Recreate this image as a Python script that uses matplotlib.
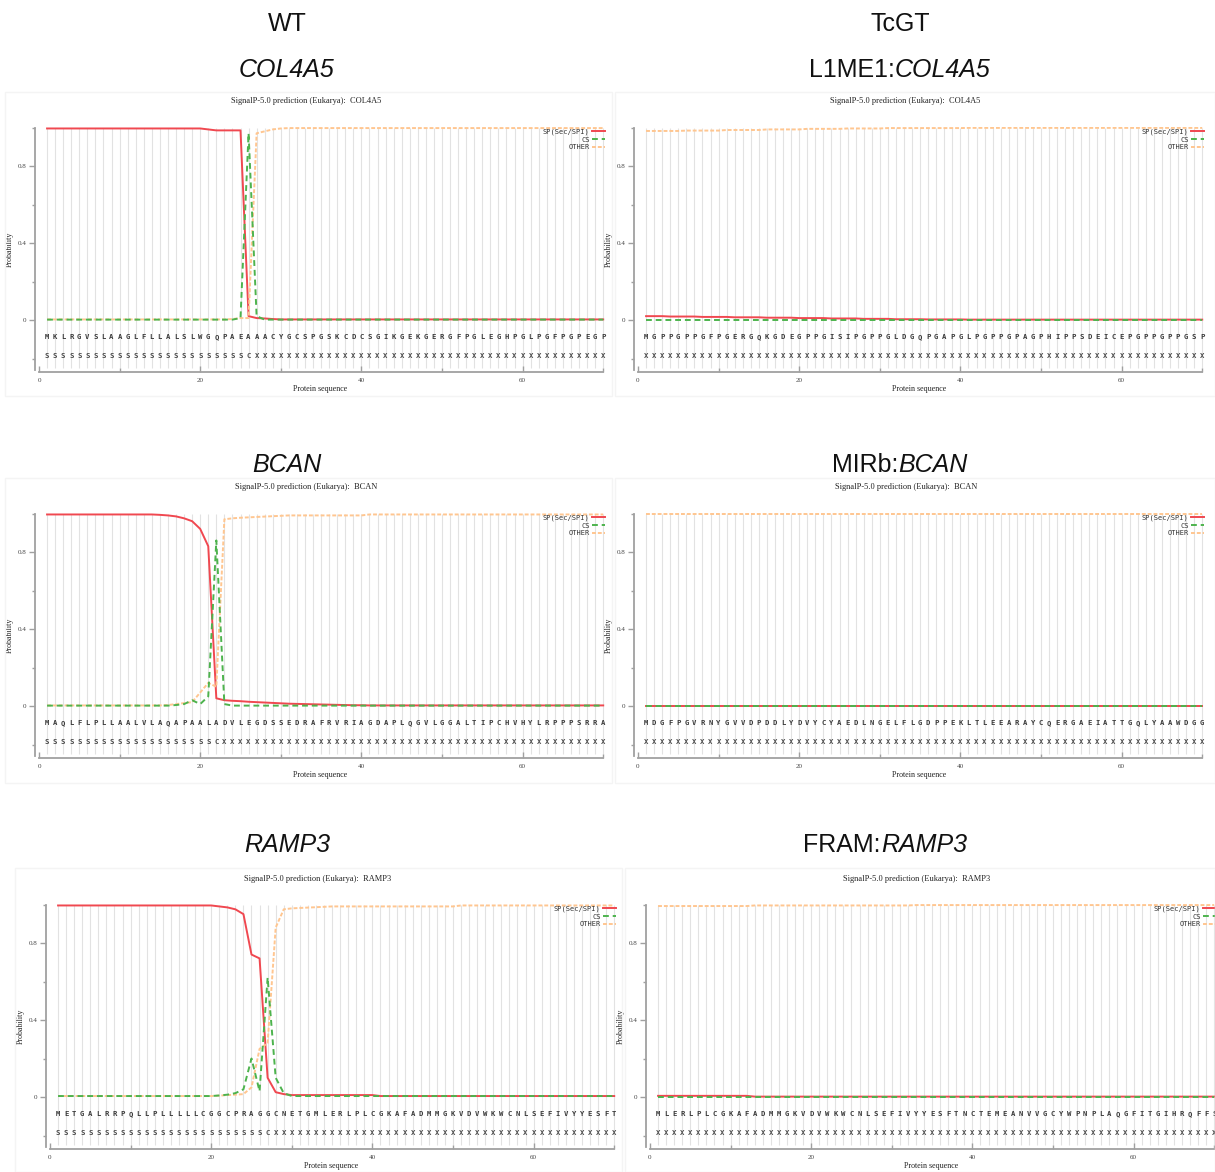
import numpy as np
import matplotlib
matplotlib.use('Agg')
import matplotlib.pyplot as plt
from matplotlib.patches import Rectangle

W, H = 1215, 1172

positions = np.arange(1, 71)

# WT COL4A5
col_seq = 'MKLRGVSLAAGLFLLALSLWGQPAEAAACYGCSPGSKCDCSGIKGEKGERGFPGLEGHPGLPGFPGPEGP'
col_lab = 'S' * 25 + 'C' + 'X' * 44
col_sp = [0.995] * 20 + [0.99] + [0.985] * 4 + [0.02, 0.01, 0.008, 0.005] + [0.003] * 41
col_cs = [0.002] * 24 + [0.01, 0.97, 0.02] + [0.002] * 43
col_other = [0.003] * 23 + [0.005, 0.01, 0.01, 0.97, 0.98, 0.99, 0.995] + [0.997] * 40

# TcGT L1ME1:COL4A5
l1_seq = 'MGPPGPPGFPGERGQKGDEGPPGISIPGPPGLDGQPGAPGLPGPPGPAGPHIPPSDEICEPGPPGPPGSP'
l1_lab = 'X' * 70
l1_sp = ([0.02] * 3 + [0.018] * 4 + [0.016] * 4 + [0.014] * 4 + [0.012] * 4 + [0.01] * 4
         + [0.008] * 4 + [0.006] * 4 + [0.004] * 4 + [0.003] * 5 + [0.002] * 30)
l1_cs = [0.001] * 70
l1_other = ([0.982] * 5 + [0.984] * 5 + [0.987] * 5 + [0.99] * 5 + [0.993] * 5 + [0.995] * 5
            + [0.997] * 10 + [0.998] * 30)

# WT BCAN
bcan_seq = 'MAQLFLPLLAALVLAQAPAALADVLEGDSSEDRAFRVRIAGDAPLQGVLGGALTIPCHVHYLRPPPSRRA'
bcan_lab = 'S' * 21 + 'C' + 'X' * 48
bcan_sp = ([0.995] * 14 + [0.993, 0.99, 0.985, 0.975, 0.96, 0.92, 0.83]
           + [0.04, 0.03, 0.027, 0.025, 0.022, 0.02, 0.018, 0.016, 0.014, 0.012,
              0.011, 0.01, 0.009, 0.008, 0.007, 0.006, 0.005, 0.004, 0.004]
           + [0.003] * 30)
bcan_cs = [0.002] * 16 + [0.005, 0.01, 0.03, 0.01, 0.05, 0.86, 0.01] + [0.002] * 47
bcan_other = ([0.003] * 15 + [0.005, 0.01, 0.015, 0.02, 0.07, 0.12, 0.1]
              + [0.97, 0.975, 0.978, 0.98, 0.982, 0.984, 0.986, 0.988]
              + [0.99] * 10 + [0.995] * 30)

# TcGT MIRb:BCAN
mir_seq = 'MDGFPGVRNYGVVDPDDLYDVYCYAEDLNGELFLGDPPEKLTLEEARAYCQERGAEIATTGQLYAAWDGG'
mir_lab = 'X' * 70
mir_sp = [0.001] * 70
mir_cs = [0.0005] * 70
mir_other = [0.999] * 70

# WT RAMP3
ramp_seq = 'METGALRRPQLLPLLLLLCGGCPRAGGCNETGMLERLPLCGKAFADMMGKVDVWKWCNLSEFIVYYESFT'
ramp_lab = 'S' * 26 + 'C' + 'X' * 43
ramp_sp = [0.995] * 20 + [0.99, 0.985, 0.975, 0.95, 0.74, 0.72, 0.1, 0.025, 0.015] + [0.01] * 11 + [0.005] * 30
ramp_cs = [0.005] * 20 + [0.008, 0.012, 0.02, 0.04, 0.2, 0.03, 0.62, 0.1, 0.02] + [0.005] * 41
ramp_other = ([0.005] * 20 + [0.007, 0.01, 0.012, 0.015, 0.05, 0.25, 0.28, 0.88, 0.975]
              + [0.98, 0.982, 0.984, 0.986, 0.988] + [0.99] * 16 + [0.995] * 20)

# TcGT FRAM:RAMP3
fram_seq = 'MLERLPLCGKAFADMMGKVDVWKWCNLSEFIVYYESFTNCTEMEANVVGCYWPNPLAQGFITGIHRQFFS'
fram_lab = 'X' * 70
fram_sp = [0.006] * 12 + [0.002] * 58
fram_cs = [0.001] * 70
fram_other = [0.992] * 12 + [0.995] * 20 + [0.997] * 38

SERIF = 'Liberation Serif'
MONO = 'DejaVu Sans Mono'
AX_COL = '#a0a0a0'


def px_axes(fig, x0, y0, sx=8.06, sy=192.5):
    # x0, y0 = pixel position of data (0, 0)
    left = x0 - 0.5 * sx
    right = x0 + 70.3 * sx
    top = y0 - 1.005 * sy
    bottom = y0 + 0.27 * sy
    return fig.add_axes([left / W, 1 - bottom / H, (right - left) / W, (bottom - top) / H])


def draw_panel(ax, seq, lab, sp, cs, other):
    ax.vlines(positions, -0.25, 1.0, color='#e2e2e2', lw=0.8, zorder=0)
    l_sp, = ax.plot(positions, sp, color='#f04850', lw=1.4, zorder=3, label='SP(Sec/SPI)')
    l_ot, = ax.plot(positions, other, color='#ffc690', lw=1.4, ls=(0, (2, 1)), zorder=4, label='OTHER')
    l_cs, = ax.plot(positions, cs, color='#4db34d', lw=1.4, ls=(0, (3, 2)), zorder=5, label='CS')

    for p, a, b in zip(positions, seq, lab):
        ax.text(p, -0.099, a, ha='center', va='baseline', fontsize=5.2, family=MONO,
                weight='bold', color='#3a3a3a')
        ax.text(p, -0.199, b, ha='center', va='baseline', fontsize=5.2, family=MONO,
                weight='bold', color='#4a4a4a')

    ax.set_xlim(-0.5, 70.3)
    ax.set_ylim(-0.27, 1.005)
    ax.spines['top'].set_visible(False)
    ax.spines['right'].set_visible(False)
    ax.spines['left'].set_bounds(-0.26, 1.0)
    ax.spines['bottom'].set_bounds(0, 70)
    for s in ('left', 'bottom'):
        ax.spines[s].set_color(AX_COL)
        ax.spines[s].set_linewidth(1.3)

    ax.set_yticks([0, 0.4, 0.8])
    ax.set_yticklabels(['0', '0.4', '0.8'])
    ax.set_yticks([-0.2, 0.2, 0.6, 1.0], minor=True)
    ax.set_xticks([0, 20, 40, 60])
    ax.set_xticks([10, 30, 50, 70], minor=True)
    ax.tick_params(axis='y', which='major', direction='out', length=4.5, width=1, color=AX_COL,
                   pad=1.5, labelsize=5, labelcolor='#444444')
    ax.tick_params(axis='y', which='minor', direction='out', length=2.5, width=1, color=AX_COL)
    ax.tick_params(axis='x', which='major', direction='in', length=4, width=1, color=AX_COL,
                   pad=4, labelsize=5, labelcolor='#444444')
    ax.tick_params(axis='x', which='minor', direction='in', length=3, width=1, color=AX_COL)
    for t in ax.get_xticklabels() + ax.get_yticklabels():
        t.set_family(SERIF)

    ax.set_xlabel('Protein sequence', family=SERIF, fontsize=5.8, labelpad=1.5, color='#222222')
    ax.set_ylabel('Probability', family=SERIF, fontsize=5.8, color='#222222')
    ax.yaxis.set_label_coords(-0.037, 0.5)

    ax.legend(handles=[l_sp, l_cs, l_ot], loc='upper right', bbox_to_anchor=(1.0, 0.995),
              markerfirst=False, frameon=False, prop={'family': MONO, 'size': 5},
              handlelength=1.9, handletextpad=0.3, labelspacing=0.25, borderaxespad=0,
              borderpad=0.1, labelcolor='#333333')


def heading(fig, cx, cy, prefix, gene):
    # upright prefix + italic gene name, centred as one string
    font = dict(va='center', fontsize=18, family='Liberation Sans', color='#111111')
    t1 = fig.text(0, 1 - cy / H, prefix, ha='left', **font)
    t2 = fig.text(0, 1 - cy / H, gene, ha='left', style='italic', **font)
    r = fig.canvas.get_renderer()
    w1 = t1.get_window_extent(r).width if prefix else 0
    w2 = t2.get_window_extent(r).width
    start = cx - (w1 + w2) / 2
    t1.set_x(start / W)
    t2.set_x((start + w1) / W)


def main():
    fig = plt.figure(figsize=(W / 100, H / 100), dpi=100)

    # faint panel frames
    frames = [(5, 92, 607, 304), (615, 92, 600, 304), (5, 478, 607, 305),
              (615, 478, 600, 305), (15, 868, 607, 304), (625, 868, 590, 304)]
    for fx, fy, fw, fh in frames:
        fig.patches.append(Rectangle((fx / W, 1 - (fy + fh) / H), fw / W, fh / H,
                                     transform=fig.transFigure, fill=False,
                                     ec='#f4f4f4', lw=1.0))

    panels = [
        (39, 320, col_seq, col_lab, col_sp, col_cs, col_other, 'COL4A5', 306, 101),
        (638, 320, l1_seq, l1_lab, l1_sp, l1_cs, l1_other, 'COL4A5', 905, 101),
        (39, 706, bcan_seq, bcan_lab, bcan_sp, bcan_cs, bcan_other, 'BCAN', 306, 487),
        (638, 706, mir_seq, mir_lab, mir_sp, mir_cs, mir_other, 'BCAN', 906, 487),
        (50, 1097, ramp_seq, ramp_lab, ramp_sp, ramp_cs, ramp_other, 'RAMP3', 318, 879),
        (650, 1097, fram_seq, fram_lab, fram_sp, fram_cs, fram_other, 'RAMP3', 917, 879),
    ]
    for x0, y0, seq, lab, sp, cs, other, gene, tx, ty in panels:
        ax = px_axes(fig, x0, y0)
        draw_panel(ax, seq, lab, sp, cs, other)
        fig.text(tx / W, 1 - ty / H, 'SignalP-5.0 prediction (Eukarya):  ' + gene,
                 ha='center', va='center', family=SERIF, fontsize=6, color='#222222')

    big = dict(ha='center', va='center', fontsize=18, family='Liberation Sans', color='#111111')
    fig.text(287 / W, 1 - 24 / H, 'WT', **big)
    fig.text(900 / W, 1 - 24 / H, 'TcGT', **big)
    heading(fig, 287, 70, '', 'COL4A5')
    heading(fig, 900, 70, 'L1ME1:', 'COL4A5')
    heading(fig, 287, 465, '', 'BCAN')
    heading(fig, 900, 465, 'MIRb:', 'BCAN')
    heading(fig, 287, 845, '', 'RAMP3')
    heading(fig, 885, 845, 'FRAM:', 'RAMP3')

    plt.savefig('out.png', dpi=100)


if __name__ == '__main__':
    main()
